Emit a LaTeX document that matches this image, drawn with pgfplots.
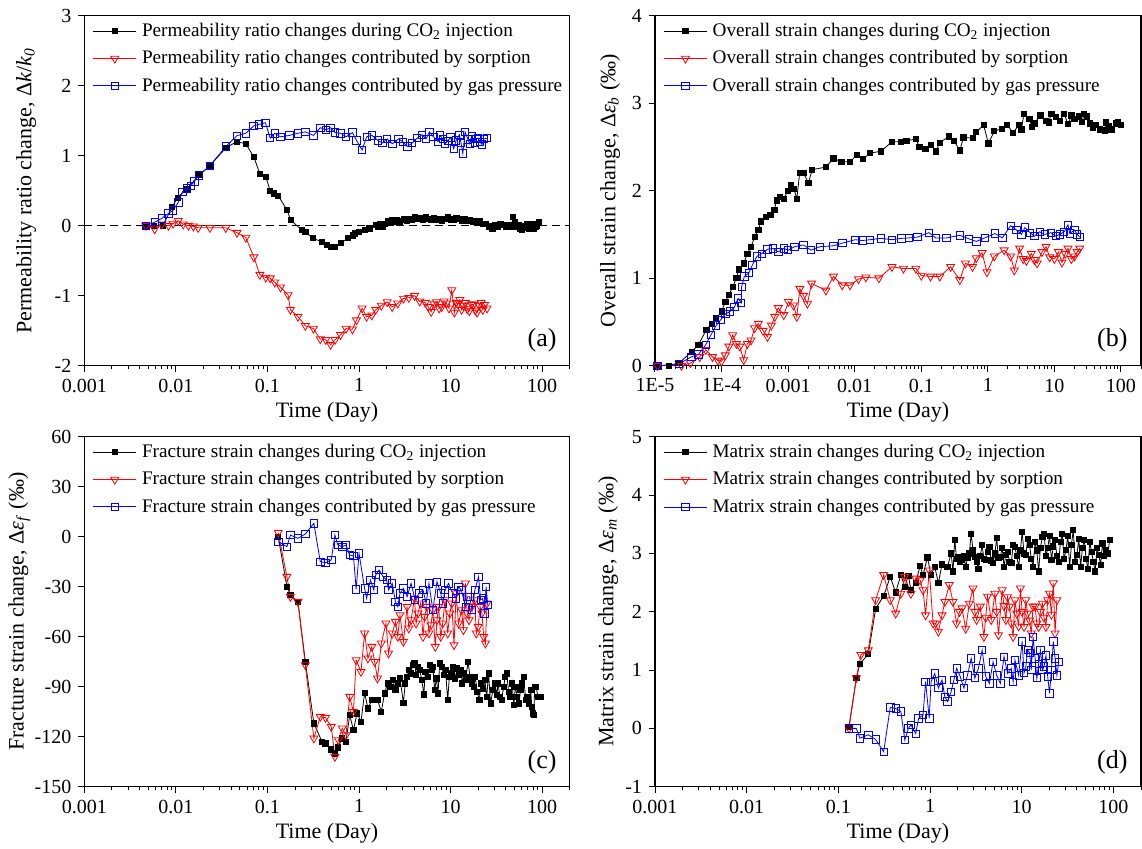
\documentclass[border=0pt]{standalone}
\usepackage{fontspec}
\setmainfont{Liberation Serif}
\usepackage{pgfplots}
\pgfplotsset{compat=1.18}
\pgfplotsset{
  panel/.style={
    scale only axis, height=175pt,
    xmin=0.001, xmax=200,
    xtick={0.001,0.01,0.1,1,10,100},
    xticklabels={0.001,0.01,0.1,1,10,100},
    minor xtick={0.002,0.003,0.004,0.005,0.006,0.007,0.008,0.009,0.02,0.03,0.04,0.05,0.06,0.07,0.08,0.09,0.2,0.3,0.4,0.5,0.6,0.7,0.8,0.9,2,3,4,5,6,7,8,9,20,30,40,50,60,70,80,90,200},
    tick pos=left, tick align=outside,
    major tick length=3pt, minor tick length=1.7pt,
    tick style={black, line width=0.5pt},
    axis line style={black, line width=0.6pt},
    tick label style={font=\fontsize{10}{12}\selectfont},
    label style={font=\fontsize{11}{13}\selectfont},
    yticklabel style={/pgf/number format/assume math mode=true},
    xlabel={Time (Day)},
    xlabel style={at={([yshift=-23.5pt]axis description cs:0.5,0)}, anchor=center},
    legend style={draw=none, fill=none, at={(axis description cs:0,1)}, anchor=north west,
      xshift=1pt, yshift=0.5pt, font=\fontsize{9.6}{11.5}\selectfont, row sep=1.5pt,
      nodes={inner xsep=2.6pt}},
    legend cell align=left,
    legend image code/.code={\draw[mark repeat=2,mark phase=2,##1] plot coordinates {(0cm,0cm) (0.38cm,0cm) (0.76cm,0cm)};},
  },
  blk/.style={black, line width=0.4pt, mark=square*, mark size=1.3pt},
  rd/.style={red, line width=0.4pt, mark=triangle, mark size=2.3pt, mark options={rotate=180, solid}},
  bl/.style={blue, line width=0.4pt, mark=square, mark size=1.85pt, mark options={solid}},
}
\begin{document}
\begin{tikzpicture}
\useasboundingbox (0,0) rectangle (571pt,424.5pt);
% ---------------- (a)
\begin{semilogxaxis}[panel, at={(42.2pt,241.65pt)}, anchor=south west, width=242.65pt,
  ymin=-2, ymax=3, ytick={-2,-1,0,1,2,3},
  ylabel={Permeability ratio change, Δ\textit{k}/\textit{k}\textsubscript{\textit{0}}},
  ylabel style={at={([xshift=-29.2pt]axis description cs:0,0.5)}, anchor=center}]
\addplot[black, line width=0.5pt, dash pattern=on 4pt off 2.5pt, forget plot] coordinates {(0.001,0) (200,0)};
\addplot[blk] coordinates {(0.0047,0)(0.0058,0)(0.0072,0)(0.0091,0.27)(0.0104,0.40)(0.0132,0.53)(0.0178,0.72)(0.0235,0.857)(0.035,1.11)(0.046,1.20)(0.058,1.17)(0.071,0.98)(0.0826,0.74)(0.0958,0.70)(0.107,0.50)(0.1175,0.46)(0.131,0.43)(0.164,0.22)(0.179,0.08)(0.236,-0.06)(0.26,-0.09)(0.313,-0.18)(0.394,-0.23)(0.45,-0.28)(0.498,-0.30)(0.55,-0.30)(0.628,-0.25)(0.757,-0.18)(0.85,-0.14)(0.91,-0.11)(1.0,-0.09)(1.15,-0.06)(1.3,-0.04)(1.52,0.01)(1.62,-0.02)(1.7,0.02)(1.8,-0.01)(1.92,0.03)(2.05,0.06)(2.2,0.04)(2.31,0.08)(2.45,0.05)(2.6,0.08)(2.8,0.06)(3.06,0.09)(3.3,0.07)(3.5,0.1)(3.8,0.09)(4.04,0.12)(4.3,0.1)(4.6,0.11)(5.0,0.08)(5.35,0.12)(5.7,0.1)(6.1,0.09)(6.6,0.11)(7.08,0.08)(7.6,0.1)(8.0,0.07)(8.7,0.1)(9.36,0.12)(10,0.09)(10.8,0.08)(11.6,0.11)(12.4,0.1)(13.3,0.07)(14.2,0.09)(15.2,0.07)(16.3,0.08)(17.4,0.05)(18.5,0.07)(19.8,0.04)(21,0.06)(22.5,0.02)(24,0.03)(26,-0.01)(28.6,-0.04)(30.5,0.01)(33,-0.02)(35,0.02)(37.8,0.01)(40,-0.02)(43,0.01)(46,-0.01)(48,0.12)(50,0.05)(53,-0.02)(56,0.01)(58,-0.05)(60.2,-0.06)(63,0.0)(66,-0.03)(69,0.02)(72,-0.04)(76,0.0)(79.6,0.03)(82,-0.05)(85,-0.02)(88,0.0)(91.6,0.05)};
\addplot[rd] coordinates {(0.0047,0)(0.00586,-0.05)(0.0070,0.02)(0.0083,0.0)(0.0093,0.03)(0.0106,0.07)(0.0120,0.02)(0.0137,0.0)(0.0155,-0.01)(0.0175,-0.03)(0.0235,-0.03)(0.035,-0.03)(0.0464,-0.10)(0.058,-0.17)(0.071,-0.45)(0.0826,-0.70)(0.0958,-0.74)(0.107,-0.75)(0.12,-0.81)(0.139,-0.88)(0.168,-0.99)(0.178,-1.20)(0.215,-1.30)(0.259,-1.43)(0.318,-1.47)(0.377,-1.62)(0.433,-1.63)(0.489,-1.70)(0.547,-1.63)(0.628,-1.56)(0.722,-1.47)(0.847,-1.48)(0.938,-1.35)(1.08,-1.18)(1.21,-1.30)(1.38,-1.28)(1.52,-1.20)(1.75,-1.14)(2.03,-1.09)(2.3,-1.16)(2.65,-1.11)(3.06,-1.04)(3.5,-1.03)(4.04,-1.00)(4.6,-1.08)(5.3,-1.10)(5.7,-1.16)(6.14,-1.23)(6.6,-1.12)(7.0,-1.09)(7.5,-1.18)(8.0,-1.16)(8.5,-1.08)(9.0,-1.11)(9.6,-1.18)(10.3,-0.92)(11.0,-1.24)(11.5,-1.10)(12.0,-1.12)(12.6,-1.06)(13.2,-1.20)(13.8,-1.14)(14.5,-1.10)(15.2,-1.19)(16.0,-1.22)(16.9,-1.12)(17.8,-1.13)(18.6,-1.21)(19.5,-1.24)(20.5,-1.14)(21.5,-1.10)(22.5,-1.20)(23.5,-1.13)(25,-1.18)};
\addplot[bl] coordinates {(0.0047,0)(0.00586,0.05)(0.0070,0.105)(0.0083,0.176)(0.0093,0.22)(0.0106,0.333)(0.0118,0.486)(0.0132,0.533)(0.0145,0.57)(0.0159,0.63)(0.0178,0.72)(0.0235,0.857)(0.035,1.13)(0.0464,1.286)(0.058,1.32)(0.0705,1.424)(0.081,1.448)(0.0949,1.47)(0.107,1.25)(0.12,1.32)(0.139,1.27)(0.174,1.29)(0.215,1.32)(0.259,1.34)(0.318,1.29)(0.377,1.40)(0.433,1.37)(0.489,1.40)(0.547,1.33)(0.628,1.32)(0.722,1.27)(0.847,1.33)(0.938,1.22)(1.08,1.08)(1.21,1.27)(1.38,1.29)(1.6,1.22)(1.8,1.18)(2.03,1.24)(2.31,1.17)(2.7,1.24)(3.0,1.20)(3.36,1.13)(3.8,1.18)(4.3,1.25)(4.88,1.30)(5.4,1.24)(5.87,1.34)(6.5,1.27)(7.3,1.20)(7.7,1.29)(8.2,1.24)(8.7,1.17)(9.3,1.21)(10.0,1.26)(10.8,1.10)(11.5,1.22)(12.5,1.30)(13.0,1.18)(13.6,1.03)(14.4,1.34)(15.5,1.23)(16.2,1.17)(17.0,1.28)(18.5,1.19)(19.2,1.24)(20,1.25)(21,1.20)(22,1.16)(23,1.24)(25,1.25)};
\node[font=\fontsize{13}{15}\selectfont] at (rel axis cs:0.943,0.073) {(a)};
\legend{Permeability ratio changes during CO\textsubscript{2} injection, Permeability ratio changes contributed by sorption, Permeability ratio changes contributed by gas pressure}
\end{semilogxaxis}
% ---------------- (b)
\begin{semilogxaxis}[panel, at={(327.5pt,241.65pt)}, anchor=south west, width=243pt,
  xmin=1e-5, xmax=200,
  xtick={1e-5,1e-4,0.001,0.01,0.1,1,10,100},
  xticklabels={1E-5,1E-4,0.001,0.01,0.1,1,10,100},
  minor xtick={2e-5,3e-5,4e-5,5e-5,6e-5,7e-5,8e-5,9e-5,2e-4,3e-4,4e-4,5e-4,6e-4,7e-4,8e-4,9e-4,0.002,0.003,0.004,0.005,0.006,0.007,0.008,0.009,0.02,0.03,0.04,0.05,0.06,0.07,0.08,0.09,0.2,0.3,0.4,0.5,0.6,0.7,0.8,0.9,2,3,4,5,6,7,8,9,20,30,40,50,60,70,80,90,200},
  ymin=0, ymax=4, ytick={0,1,2,3,4},
  ylabel={Overall strain change, Δ\textit{ε}\textsubscript{\textit{b}} (‰)},
  ylabel style={at={([xshift=-22.5pt]axis description cs:0,0.5)}, anchor=center}]
\addplot[blk] coordinates {(1.09e-5,0)(1.6e-5,0)(2.3e-5,0.03)(3.55e-5,0.16)(4.5e-5,0.24)(5.9e-5,0.41)(7.1e-5,0.48)(8.3e-5,0.54)(1.0e-4,0.62)(1.14e-4,0.73)(1.29e-4,0.81)(1.47e-4,0.90)(1.67e-4,1.0)(1.82e-4,1.10)(2.15e-4,1.17)(2.44e-4,1.28)(2.77e-4,1.36)(3.14e-4,1.47)(3.57e-4,1.55)(3.9e-4,1.65)(4.6e-4,1.70)(5.4e-4,1.72)(6.2e-4,1.78)(6.7e-4,1.89)(7.6e-4,1.93)(8.6e-4,1.91)(1.0e-3,2.0)(1.11e-3,2.06)(1.22e-3,2.02)(1.35e-3,1.91)(1.49e-3,2.20)(1.7e-3,2.20)(2.02e-3,2.09)(2.3e-3,2.24)(3.7e-3,2.27)(4.8e-3,2.37)(6.3e-3,2.33)(8.5e-3,2.33)(0.0109,2.41)(0.0133,2.36)(0.017,2.43)(0.0248,2.45)(0.0363,2.56)(0.050,2.56)(0.060,2.57)(0.083,2.59)(0.094,2.50)(0.115,2.48)(0.138,2.52)(0.166,2.45)(0.19,2.55)(0.26,2.62)(0.31,2.57)(0.38,2.46)(0.43,2.61)(0.59,2.60)(0.67,2.67)(0.865,2.75)(1.02,2.54)(1.25,2.68)(1.63,2.71)(1.96,2.75)(2.4,2.66)(2.9,2.75)(3.2,2.70)(3.48,2.88)(4.2,2.82)(4.6,2.73)(5.0,2.77)(6.17,2.86)(7.4,2.80)(8.2,2.78)(9.0,2.88)(10.6,2.84)(12,2.80)(14.0,2.88)(16,2.76)(18,2.86)(20,2.82)(23.3,2.85)(26,2.79)(28,2.88)(31,2.85)(34.1,2.77)(38,2.72)(42,2.75)(48,2.70)(56.6,2.69)(60,2.78)(65,2.74)(72,2.70)(82.8,2.77)(90,2.78)(100,2.75)};
\addplot[rd] coordinates {(1.09e-5,0)(2.5e-5,0)(3.4e-5,0.03)(4.7e-5,0.10)(5.8e-5,0.18)(7.3e-5,0.10)(8.8e-5,0.06)(1.0e-4,0.05)(1.14e-4,0.12)(1.29e-4,0.22)(1.47e-4,0.35)(1.67e-4,0.25)(1.88e-4,0.22)(2.15e-4,0.065)(2.44e-4,0.25)(2.77e-4,0.29)(3.14e-4,0.43)(3.57e-4,0.48)(4.2e-4,0.40)(4.9e-4,0.33)(5.6e-4,0.46)(6.3e-4,0.56)(7.1e-4,0.66)(8.6e-4,0.58)(1.01e-3,0.73)(1.2e-3,0.69)(1.35e-3,0.56)(1.5e-3,0.88)(1.7e-3,0.80)(1.95e-3,0.71)(2.25e-3,0.94)(3.7e-3,0.86)(4.8e-3,1.02)(6.5e-3,0.92)(8.5e-3,0.92)(0.0114,0.99)(0.0147,1.01)(0.0231,1.0)(0.0363,1.13)(0.054,1.11)(0.083,1.11)(0.10,1.03)(0.138,1.02)(0.19,1.02)(0.276,1.13)(0.38,0.98)(0.46,1.17)(0.59,1.13)(0.67,1.23)(0.82,1.29)(0.97,1.07)(1.25,1.25)(1.76,1.32)(2.2,1.25)(2.5,1.09)(3.0,1.34)(3.4,1.22)(3.8,1.20)(4.5,1.28)(5.0,1.21)(5.5,1.17)(6.5,1.30)(7.5,1.36)(8.5,1.24)(10,1.22)(11.5,1.30)(13,1.18)(14.5,1.28)(16,1.34)(18,1.22)(20,1.25)(22,1.30)(24,1.34)};
\addplot[bl] coordinates {(1.09e-5,0)(2.3e-5,0.02)(3.5e-5,0.10)(4.5e-5,0.13)(5.8e-5,0.24)(6.9e-5,0.35)(8.3e-5,0.46)(9.6e-5,0.52)(1.14e-4,0.59)(1.34e-4,0.62)(1.56e-4,0.67)(1.77e-4,0.77)(1.97e-4,0.72)(2.0e-4,0.90)(2.2e-4,1.02)(2.58e-4,1.06)(2.9e-4,1.15)(3.4e-4,1.25)(4.0e-4,1.28)(4.9e-4,1.33)(5.9e-4,1.34)(7.1e-4,1.30)(8.6e-4,1.34)(1.0e-3,1.32)(1.25e-3,1.36)(1.7e-3,1.38)(2.2e-3,1.32)(3.0e-3,1.36)(4.8e-3,1.37)(6.5e-3,1.40)(0.0102,1.44)(0.013,1.43)(0.017,1.44)(0.0248,1.455)(0.036,1.44)(0.050,1.455)(0.065,1.46)(0.088,1.47)(0.13,1.52)(0.165,1.46)(0.24,1.46)(0.38,1.49)(0.52,1.45)(0.67,1.42)(0.9,1.46)(1.28,1.51)(1.65,1.46)(2.2,1.60)(2.7,1.55)(3.2,1.50)(3.6,1.58)(4.3,1.52)(5.0,1.48)(6.0,1.53)(7.2,1.50)(8.8,1.52)(10.5,1.48)(12,1.50)(14,1.53)(16,1.61)(17,1.51)(20,1.55)(22,1.50)(24,1.47)};
\node[font=\fontsize{13}{15}\selectfont] at (rel axis cs:0.941,0.073) {(b)};
\legend{Overall strain changes during CO\textsubscript{2} injection, Overall strain changes contributed by sorption, Overall strain changes contributed by gas pressure}
\end{semilogxaxis}
% ---------------- (c)
\begin{semilogxaxis}[panel, at={(42.2pt,31.15pt)}, anchor=south west, width=242.65pt,
  ymin=-150, ymax=60, ytick={-150,-120,-90,-60,-30,0,30,60},
  ylabel={Fracture strain change, Δ\textit{ε}\textsubscript{\textit{f}} (‰)},
  ylabel style={at={([xshift=-32.5pt]axis description cs:0,0.5)}, anchor=center}]
\addplot[blk] coordinates {(0.131,0)(0.163,-30)(0.178,-35)(0.215,-39)(0.259,-75)(0.321,-112)(0.394,-123)(0.43,-124)(0.497,-127.6)(0.545,-130)(0.587,-126.4)(0.656,-121)(0.72,-123)(0.791,-107)(0.869,-116)(0.95,-106)(1.05,-111)(1.15,-93.6)(1.25,-103)(1.38,-98)(1.59,-98)(1.75,-105)(1.9,-94)(2.05,-88)(2.2,-90)(2.35,-86)(2.5,-92)(2.65,-88)(2.8,-85)(3.05,-99.6)(3.2,-88)(3.35,-84)(3.5,-80)(3.7,-82)(3.85,-77)(4.03,-75.6)(4.2,-83)(4.4,-78)(4.6,-80)(4.85,-86)(5.1,-94.6)(5.3,-81)(5.6,-84)(5.9,-77)(6.2,-80)(6.4,-78)(6.7,-92)(7.0,-85)(7.3,-94)(7.6,-76)(8.0,-78)(8.4,-83)(8.8,-80)(9.3,-98)(9.7,-84)(10.2,-82)(10.7,-78)(11.2,-85)(11.8,-79)(12.4,-83)(13.0,-80)(13.4,-88)(14.0,-82)(14.6,-86)(15.5,-75)(16.3,-84)(17.0,-88)(17.8,-90)(18.6,-84)(19.5,-93)(20.6,-98)(21.5,-88)(22.6,-91)(23.7,-86)(24.8,-96)(26,-82)(27.3,-100)(29,-92)(30.5,-88)(32,-95)(33,-88)(34.5,-96)(36,-98)(38,-90)(39.5,-84)(41,-82)(43,-93)(45,-96)(47,-88)(49,-101)(51,-90)(53.5,-96)(56,-100)(58,-92)(60.5,-88)(63,-84)(66,-98)(69,-96)(72,-100)(75,-92)(77,-102)(79,-106)(81,-107)(83,-90)(86,-90)(90,-96)(95.5,-96)};
\addplot[rd] coordinates {(0.131,2.4)(0.163,-24)(0.178,-36)(0.215,-39)(0.259,-77)(0.321,-121)(0.377,-108)(0.43,-108.6)(0.497,-114)(0.545,-132)(0.595,-122)(0.656,-115)(0.72,-119)(0.79,-96)(0.869,-105)(0.93,-74)(1.05,-81)(1.15,-58)(1.25,-73)(1.38,-66)(1.48,-75)(1.59,-85)(1.75,-64)(1.97,-52)(2.1,-70)(2.3,-58)(2.5,-51)(2.65,-60)(2.8,-47)(3.05,-63)(3.35,-42)(3.5,-55)(3.7,-50)(4.03,-37)(4.2,-52)(4.4,-46)(4.7,-40)(5.0,-60)(5.2,-48)(5.5,-42)(5.8,-58)(6.1,-53)(6.4,-44)(6.8,-66)(7.1,-50)(7.4,-42)(7.8,-60)(8.2,-52)(8.7,-38)(9.3,-58)(9.8,-46)(10.3,-40)(10.9,-65)(11.5,-34)(12.2,-52)(13.2,-44)(13.8,-56)(14.5,-28)(15.2,-46)(15.9,-50)(17,-42)(18.3,-38)(19.1,-58)(20,-54)(21,-42)(22,-46)(23,-60)(24,-64)(25,-40)};
\addplot[bl] coordinates {(0.131,-3)(0.163,-6)(0.178,1)(0.215,-1)(0.259,1.6)(0.321,8)(0.377,-15)(0.43,-15.6)(0.497,-14)(0.545,1)(0.587,-5)(0.656,-6)(0.72,-5)(0.79,-11)(0.869,-11.6)(0.93,-31.6)(1.0,-10)(1.15,-31)(1.21,-37)(1.33,-26)(1.45,-32)(1.52,-23)(1.66,-20)(1.83,-24)(2.0,-26)(2.1,-32)(2.3,-28)(2.5,-39)(2.65,-42)(2.8,-34)(3.05,-31)(3.35,-36)(3.7,-28)(4.1,-38)(4.5,-34)(5.0,-32)(5.4,-40)(5.8,-28)(6.4,-44)(7.1,-27)(7.8,-34)(8.2,-40)(8.7,-32)(9.5,-28)(10.5,-34)(11.5,-37)(12.2,-30)(13.1,-32)(14.6,-42)(15.3,-36)(16.1,-36)(17.2,-44)(18.4,-32)(20.2,-24)(21.3,-38)(22.4,-37)(23.5,-46)(24.4,-30)(25.5,-41)};
\node[font=\fontsize{13}{15}\selectfont] at (rel axis cs:0.943,0.071) {(c)};
\legend{Fracture strain changes during CO\textsubscript{2} injection, Fracture strain changes contributed by sorption, Fracture strain changes contributed by gas pressure}
\end{semilogxaxis}
% ---------------- (d)
\begin{semilogxaxis}[panel, at={(327.5pt,31.15pt)}, anchor=south west, width=243pt,
  ymin=-1, ymax=5, ytick={-1,0,1,2,3,4,5},
  ylabel={Matrix strain change, Δ\textit{ε}\textsubscript{\textit{m}} (‰)},
  ylabel style={at={([xshift=-23.4pt]axis description cs:0,0.5)}, anchor=center}]
\addplot[blk] coordinates {(0.1306,0.03)(0.157,0.86)(0.172,1.11)(0.212,1.27)(0.255,2.05)(0.312,2.27)(0.368,2.60)(0.422,2.33)(0.480,2.63)(0.531,2.43)(0.581,2.62)(0.619,2.37)(0.698,2.50)(0.779,2.78)(0.839,2.63)(0.936,2.93)(1.026,2.63)(1.125,2.77)(1.233,2.49)(1.35,2.81)(1.55,2.77)(1.70,3.00)(1.78,2.69)(1.86,3.23)(1.95,2.9)(2.04,2.94)(2.13,2.85)(2.23,2.89)(2.34,2.95)(2.45,2.77)(2.56,2.92)(2.68,3.0)(2.81,3.34)(2.94,3.05)(3.08,2.94)(3.22,2.85)(3.37,2.74)(3.53,2.96)(3.70,3.14)(3.87,2.9)(4.05,2.89)(4.24,3.02)(4.44,3.11)(4.65,2.88)(4.87,2.83)(5.1,3.0)(5.33,3.26)(5.58,2.92)(5.85,2.94)(6.12,3.1)(6.41,2.77)(6.71,2.98)(7.02,3.03)(7.35,2.86)(7.70,2.83)(8.06,3.15)(8.44,3.11)(8.83,2.95)(9.25,2.77)(9.68,3.05)(10.1,3.37)(10.6,3.0)(11.1,2.97)(11.6,3.25)(12.2,3.14)(12.7,2.9)(13.3,2.77)(14.0,3.2)(14.6,3.05)(15.3,2.69)(16.0,3.1)(16.8,3.28)(17.5,3.34)(18.4,2.95)(19.2,3.09)(20.1,3.3)(21.1,2.89)(22.1,3.12)(23.1,3.23)(24.2,2.95)(25.3,2.86)(26.5,3.2)(27.7,3.34)(29,2.9)(30.4,3.06)(31.8,3.3)(33.3,2.77)(34.9,3.15)(36.5,3.40)(38.2,2.85)(40.0,2.97)(41.9,3.25)(43.9,2.77)(46,3.1)(48.1,3.23)(50.4,2.9)(52.7,2.74)(55.2,3.2)(57.7,3.03)(60.4,2.85)(63.2,2.69)(66.2,3.1)(69.3,2.97)(72.6,2.8)(76.0,3.17)(79.5,2.95)(83.2,3.06)(87,3.0)(91.2,3.23)};
\addplot[rd] coordinates {(0.1306,0.0)(0.157,0.86)(0.176,1.26)(0.212,1.34)(0.255,2.20)(0.312,2.63)(0.368,2.20)(0.422,1.97)(0.480,2.31)(0.531,2.60)(0.619,2.31)(0.698,2.57)(0.779,2.54)(0.839,2.37)(0.894,1.94)(0.98,2.71)(1.08,1.80)(1.15,1.80)(1.233,1.66)(1.35,1.94)(1.45,2.17)(1.62,2.46)(1.78,2.17)(1.95,1.80)(2.1,2.0)(2.23,2.06)(2.45,1.71)(2.68,2.14)(2.94,2.40)(3.08,2.0)(3.22,1.86)(3.53,2.09)(3.87,1.57)(4.05,1.9)(4.24,2.26)(4.65,1.86)(5.1,2.31)(5.33,2.0)(5.58,1.60)(6.12,2.37)(6.41,2.1)(6.71,1.86)(7.0,2.25)(7.35,2.09)(7.7,1.8)(8.06,1.57)(8.44,2.2)(8.83,1.97)(9.25,1.75)(9.68,2.40)(10.1,2.0)(10.6,1.74)(11.1,2.2)(11.6,1.97)(12.2,1.85)(12.7,1.63)(13.3,2.09)(14.0,2.09)(14.6,1.8)(15.3,1.74)(16.0,2.0)(16.8,2.14)(17.5,1.9)(18.4,1.74)(19.2,2.2)(20.1,2.31)(21.1,1.95)(22.1,2.49)(23.1,1.63)(24.2,2.20)};
\addplot[bl] coordinates {(0.1306,0.0)(0.157,0.0)(0.172,-0.17)(0.212,-0.11)(0.255,-0.19)(0.312,-0.40)(0.368,0.36)(0.422,0.34)(0.480,0.29)(0.531,-0.20)(0.581,0.0)(0.619,0.06)(0.698,-0.09)(0.75,0.17)(0.839,0.23)(0.894,0.80)(0.98,0.17)(1.026,0.80)(1.125,0.94)(1.233,0.69)(1.35,0.83)(1.45,0.54)(1.55,0.46)(1.70,0.63)(1.82,0.83)(1.95,1.03)(2.13,0.89)(2.34,0.69)(2.56,0.91)(2.81,1.20)(3.08,0.86)(3.37,1.03)(3.70,1.34)(4.05,0.89)(4.44,0.77)(4.87,1.14)(5.33,0.91)(5.85,0.77)(6.41,1.23)(7.02,0.94)(7.70,1.03)(8.06,0.8)(8.44,1.17)(9.25,0.91)(10.1,1.49)(10.6,0.95)(11.1,1.06)(11.6,1.35)(12.2,1.29)(12.7,1.0)(13.3,1.57)(14.0,1.2)(14.6,0.86)(15.3,1.1)(16.0,1.34)(16.8,1.0)(17.5,1.06)(18.4,1.25)(19.2,0.89)(20.1,0.60)(21.1,1.0)(22.1,1.49)(23.1,1.2)(24.2,0.91)(25.3,1.14)};
\node[font=\fontsize{13}{15}\selectfont] at (rel axis cs:0.941,0.071) {(d)};
\legend{Matrix strain changes during CO\textsubscript{2} injection, Matrix strain changes contributed by sorption, Matrix strain changes contributed by gas pressure}
\end{semilogxaxis}
\end{tikzpicture}
\end{document}
